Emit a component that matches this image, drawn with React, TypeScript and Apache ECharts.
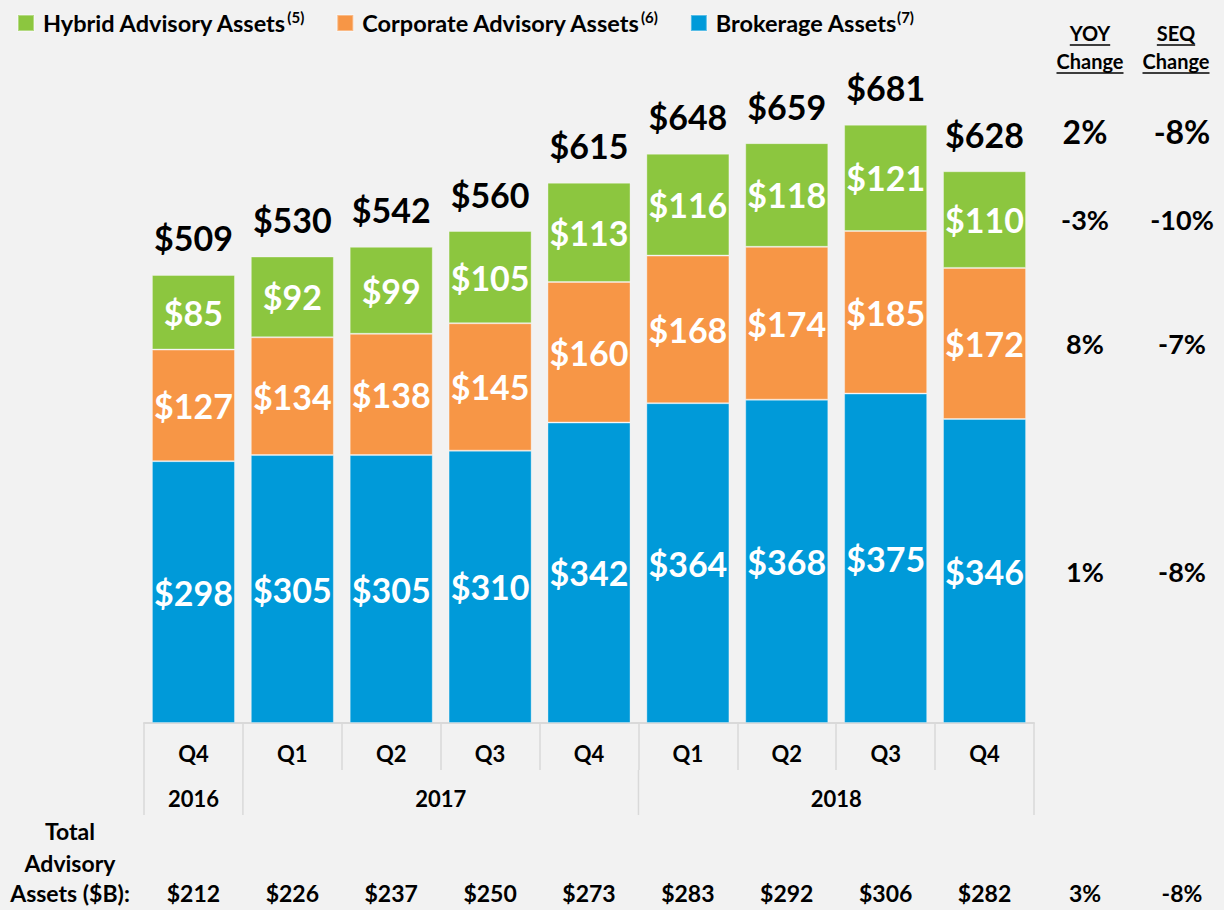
import React, { useEffect, useRef } from "react";
import * as echarts from "echarts";

const quarters = ["Q4", "Q1", "Q2", "Q3", "Q4", "Q1", "Q2", "Q3", "Q4"];
const yearLabels = ["2016", "2017", "2018"];
const yearStart = [0, 1, 5];
const yearEnd = [0, 4, 8];
const brokerage = [298, 305, 305, 310, 342, 364, 368, 375, 346];
const corporate = [127, 134, 138, 145, 160, 168, 174, 185, 172];
const hybrid = [85, 92, 99, 105, 113, 116, 118, 121, 110];
const totals = [509, 530, 542, 560, 615, 648, 659, 681, 628];
const totalAdvisory = [212, 226, 237, 250, 273, 283, 292, 306, 282];
// order: total, hybrid, corporate, brokerage
const yoyChange = ["2%", "-3%", "8%", "1%"];
const seqChange = ["-8%", "-10%", "-7%", "-8%"];
const advisoryYoy = "3%";
const advisorySeq = "-8%";

const seriesNames = ["Hybrid Advisory Assets", "Corporate Advisory Assets", "Brokerage Assets"];
const footnotes = ["(5)", "(6)", "(7)"];

const GREEN = "#8cc63f";
const ORANGE = "#f79646";
const BLUE = "#009ad9";
const FONT = "Lato";

function measure(text: string, size: number) {
  const c = document.createElement("canvas").getContext("2d")!;
  c.font = `bold ${size}px ${FONT}`;
  return c.measureText(text).width;
}

export default function App() {
  const ref = useRef<HTMLDivElement>(null);
  useEffect(() => {
    document.body.style.margin = "0";
    const chart = echarts.init(ref.current!, null, { renderer: "svg" });
    const inLabel = {
      show: true,
      position: "inside",
      color: "#fff",
      fontFamily: FONT,
      fontWeight: "bold",
      fontSize: 34,
      formatter: (p: any) => "$" + p.value,
    };
    const border = { borderColor: "rgba(255,255,255,0.35)", borderWidth: 1 };
    const option: any = {
      animation: false,
      backgroundColor: "#f2f2f2",
      textStyle: { fontFamily: FONT },
      legend: {
        left: 12,
        top: 4,
        icon: "rect",
        itemWidth: 16,
        itemHeight: 16,
        itemGap: 32,
        data: seriesNames,
        formatter: (name: string) => `{n|${name}}{s|${footnotes[seriesNames.indexOf(name)]}}`,
        textStyle: {
          rich: {
            n: { fontSize: 23.5, fontWeight: "bold", color: "#000", fontFamily: FONT, lineHeight: 28, padding: [0, 0, 0, 4] },
            s: { fontSize: 15, fontWeight: "bold", color: "#000", fontFamily: FONT, lineHeight: 28, verticalAlign: "top" },
          },
        },
      },
      grid: { left: 144, right: 190, top: 108, bottom: 187 },
      xAxis: {
        type: "category",
        data: quarters,
        axisLine: { lineStyle: { color: "#d9d9d9", width: 2 } },
        axisTick: { show: true, length: 47, lineStyle: { color: "#d9d9d9", width: 1.5 } },
        axisLabel: { color: "#000", fontWeight: "bold", fontSize: 22, fontFamily: FONT, margin: 19 },
      },
      yAxis: { type: "value", min: 0, max: 700, show: false, splitLine: { show: false } },
      series: [
        { name: seriesNames[2], type: "bar", stack: "a", barCategoryGap: "16%", data: brokerage, itemStyle: { color: BLUE, ...border }, label: inLabel },
        { name: seriesNames[1], type: "bar", stack: "a", data: corporate, itemStyle: { color: ORANGE, ...border }, label: inLabel },
        { name: seriesNames[0], type: "bar", stack: "a", data: hybrid, itemStyle: { color: GREEN, ...border }, label: inLabel },
        {
          name: "Total",
          type: "bar",
          stack: "a",
          data: totals.map(() => 0),
          itemStyle: { color: "transparent" },
          label: {
            show: true,
            position: "top",
            distance: 20,
            color: "#000",
            fontFamily: FONT,
            fontWeight: "bold",
            fontSize: 34,
            formatter: (p: any) => "$" + totals[p.dataIndex],
          },
        },
      ],
    };
    chart.setOption(option);

    const cx = (i: number) => chart.convertToPixel({ xAxisIndex: 0 }, i) as number;
    const cy = (v: number) => chart.convertToPixel({ yAxisIndex: 0 }, v) as number;
    const band = cx(1) - cx(0);
    const y0 = cy(0);
    const txt = (text: string, x: number, y: number, size: number, align = "center") => ({
      type: "text",
      style: { text, x, y, fill: "#000", fontFamily: FONT, fontWeight: "bold", fontSize: size, align, verticalAlign: "middle" },
    });
    const line = (x1: number, y1: number, x2: number, y2: number, color = "#d9d9d9", w = 1.5) => ({
      type: "line",
      shape: { x1, y1, x2, y2 },
      style: { stroke: color, lineWidth: w },
    });
    const els: any[] = [];
    // year dividers
    const bounds = [0, 1, 5, 9];
    bounds.forEach((b) => {
      const x = cx(0) - band / 2 + b * band;
      els.push(line(x, y0 + 47, x, y0 + 92));
    });
    yearLabels.forEach((y, k) => {
      els.push(txt(y, (cx(yearStart[k]) + cx(yearEnd[k])) / 2, y0 + 75, 22));
    });
    // headers
    const yoyX = 1090;
    const seqX = 1176;
    const headers: [string, number, number][] = [
      ["YOY", yoyX, 33],
      ["Change", yoyX, 61],
      ["SEQ", seqX, 33],
      ["Change", seqX, 61],
    ];
    headers.forEach(([t, x, y]) => {
      els.push(txt(t, x, y, 20));
      const w = measure(t, 20);
      els.push(line(x - w / 2, y + 12, x + w / 2, y + 12, "#000", 1.5));
    });
    // right column values
    const last = totals.length - 1;
    const b = brokerage[last], c = corporate[last], h = hybrid[last];
    const rowsY = [cy(totals[last]) - 40, cy(b + c + h / 2), cy(b + c / 2), cy(b / 2)];
    const rowSize = [32, 27, 27, 27];
    rowsY.forEach((y, k) => {
      els.push(txt(yoyChange[k], 1085, y, rowSize[k]));
      els.push(txt(seqChange[k], 1182, y, rowSize[k]));
    });
    // bottom table
    els.push(txt("Total", 70, 831, 23));
    els.push(txt("Advisory", 70, 863, 23));
    els.push(txt("Assets ($B):", 70, 893, 23));
    totalAdvisory.forEach((v, i) => els.push(txt("$" + v, cx(i), 893, 23)));
    els.push(txt(advisoryYoy, 1085, 893, 23));
    els.push(txt(advisorySeq, 1182, 893, 23));
    chart.setOption({ graphic: els });
    return () => chart.dispose();
  }, []);
  return <div ref={ref} style={{ width: 1224, height: 910 }} />;
}
